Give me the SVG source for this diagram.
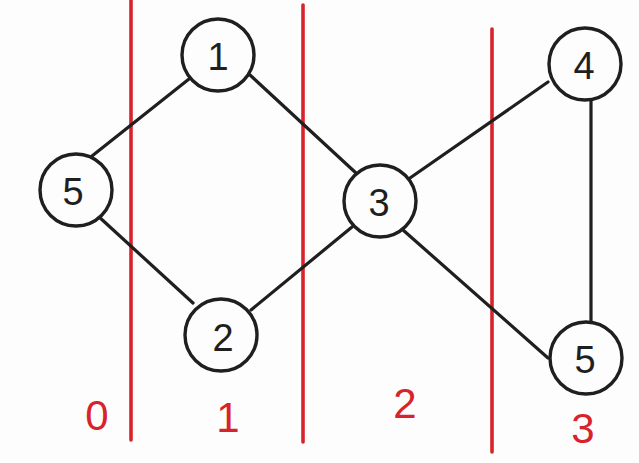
<svg xmlns="http://www.w3.org/2000/svg" width="639" height="463" viewBox="0 0 639 463">
<style>
.bg{fill:#fdfdfd}
.edge{stroke:#1f1f1f;stroke-width:3.2;stroke-linecap:round;fill:none}
.cut{stroke:#d8232a;stroke-width:3.6;stroke-linecap:round}
.node circle{fill:#fdfdfd;stroke:#1f1f1f;stroke-width:3.4}
.node text{font-family:"Liberation Sans",Arial,sans-serif;font-size:38px;fill:#1f1f1f;text-anchor:middle;dominant-baseline:central}
.lvl{font-family:"Liberation Sans",Arial,sans-serif;font-size:42px;fill:#d8232a;text-anchor:middle;dominant-baseline:central}
</style>
<rect class="bg" x="0" y="0" width="639" height="463"/>
<g id="cuts">
<line class="cut" x1="131" y1="0" x2="131" y2="440"/>
<line class="cut" x1="303" y1="5" x2="303" y2="442"/>
<line class="cut" x1="492" y1="29" x2="492" y2="452"/>
</g>
<g id="connectors">
<line class="edge" x1="92" y1="156" x2="189" y2="79"/>
<line class="edge" x1="250" y1="75" x2="356" y2="173"/>
<line class="edge" x1="98" y1="216" x2="193" y2="303"/>
<line class="edge" x1="251" y1="310" x2="352" y2="227"/>
<line class="edge" x1="410" y1="178" x2="548" y2="82"/>
<line class="edge" x1="403" y1="230" x2="548" y2="358"/>
<line class="edge" x1="591" y1="97" x2="591" y2="321"/>
</g>
<g id="n1" class="node"><circle cx="218" cy="55" r="36"/><text x="218" y="57">1</text></g>
<g id="n5a" class="node"><circle cx="76" cy="190" r="36"/><text x="73" y="192">5</text></g>
<g id="n3" class="node"><circle cx="380" cy="201" r="36"/><text x="379" y="203">3</text></g>
<g id="n4" class="node"><circle cx="585" cy="64" r="36"/><text x="584" y="66">4</text></g>
<g id="n2" class="node"><circle cx="221" cy="335" r="36"/><text x="223" y="338">2</text></g>
<g id="n5b" class="node"><circle cx="586" cy="358" r="36"/><text x="585" y="360">5</text></g>
<g id="levels">
<text class="lvl" x="97" y="415">0</text>
<text class="lvl" x="228" y="417">1</text>
<text class="lvl" x="405" y="403">2</text>
<text class="lvl" x="583" y="428">3</text>
</g>
</svg>
